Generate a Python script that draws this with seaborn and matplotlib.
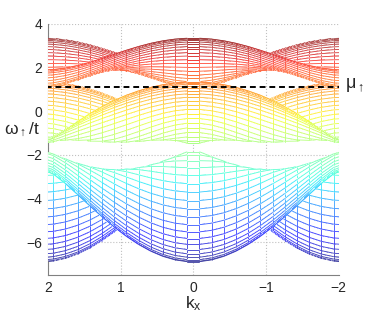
import numpy as np
import matplotlib
matplotlib.use("Agg")
import matplotlib.pyplot as plt
from matplotlib.collections import LineCollection, PolyCollection
import seaborn as sns

# параметры модели (треугольная решётка, 3 подрешётки), подобраны по картинке
t_hop = 1.0
site_potential = [1.1, -1.5, -1.8]           # потенциал для спина вверх на подрешётках A, B, C
kx_grid = np.linspace(-2 * np.pi / 3, 2 * np.pi / 3, 26)
ky_grid = np.linspace(0, 2 * np.pi / np.sqrt(3), 30)
mu_up = 1.12                                 # химпотенциал
x_ticks = [2, 1, 0, -1, -2]
x_ticklabels = ["2", "1", "0", "\u22121", "\u22122"]
y_ticks = [-6, -4, -2, 0, 2, 4]
y_ticklabels = ["\u22126", "\u22124", "\u22122", "0", "2", "4"]

sns.set_style("white")
plt.rcParams["font.family"] = ["Liberation Sans", "DejaVu Sans"]
plt.rcParams["mathtext.fontset"] = "custom"
plt.rcParams["mathtext.rm"] = "Liberation Sans"
plt.rcParams["mathtext.it"] = "Liberation Sans"


def eps(kx, ky):
    return -2 * t_hop * (np.cos(kx) + 2 * np.cos(kx / 2) * np.cos(np.sqrt(3) * ky / 2))


Qx, Qy = 2 * np.pi / 3, -2 * np.pi / np.sqrt(3)
V = np.array(site_potential)
vq = [np.mean(V * np.exp(-2j * np.pi * m * np.arange(3) / 3)) for m in range(3)]
KX, KY = np.meshgrid(kx_grid, ky_grid)
H = np.zeros(KX.shape + (3, 3), complex)
for n in range(3):
    H[..., n, n] += eps(KX + n * Qx, KY + n * Qy)
    for m in range(3):
        H[..., n, m] += vq[(n - m) % 3]
bands = np.linalg.eigvalsh(H)  # (ny, nx, 3)

cmap = plt.get_cmap("jet")
norm = plt.Normalize(bands.min(), bands.max())


def edge_colors(v):
    c = cmap(norm(np.array(v)))
    c[:, :3] = 0.78 * c[:, :3] + 0.22  # чуть светлее, как тонкие линии в оригинале
    return c


fig = plt.figure(figsize=(3.74, 3.19), dpi=100)
ax = fig.add_axes([0.128, 0.138, 0.778, 0.787])
ax.set_axisbelow(True)

ny, nx = KX.shape
z = 2.0
# рисуем полосы сетки от дальних (большие ky) к ближним, белые грани скрывают линии сзади
for i in reversed(range(ny - 1)):
    polys, segs, vals = [], [], []
    for b in range(3):
        E = bands[..., b]
        for j in range(nx - 1):
            polys.append([(kx_grid[j], E[i, j]), (kx_grid[j + 1], E[i, j + 1]),
                          (kx_grid[j + 1], E[i + 1, j + 1]), (kx_grid[j], E[i + 1, j])])
        for r in (i, i + 1):
            for j in range(nx - 1):
                segs.append([(kx_grid[j], E[r, j]), (kx_grid[j + 1], E[r, j + 1])])
                vals.append(0.5 * (E[r, j] + E[r, j + 1]))
        for j in range(nx):
            segs.append([(kx_grid[j], E[i, j]), (kx_grid[j], E[i + 1, j])])
            vals.append(0.5 * (E[i, j] + E[i + 1, j]))
    ax.add_collection(PolyCollection(polys, facecolors="white", edgecolors="none",
                                     antialiaseds=False, zorder=z))
    ax.add_collection(LineCollection(segs, colors=edge_colors(vals), linewidths=0.6,
                                     zorder=z + 0.5))
    z += 1

sns.lineplot(x=[2.2, -2.2], y=[mu_up, mu_up], color="black", lw=1.4,
             linestyle=(0, (3, 2)), ax=ax, zorder=z + 1)

ax.set_xlim(2, -2)
ax.set_ylim(-7.5, 4)
ax.set_xticks(x_ticks)
ax.set_xticklabels(x_ticklabels, fontsize=10)
ax.set_yticks(y_ticks)
ax.set_yticklabels(y_ticklabels, fontsize=10)
ax.grid(True, linestyle=":", color="#c0c0c0", lw=0.8)
ax.tick_params(direction="in", length=3, color="#808080", pad=4)
for s in ["top", "right"]:
    ax.spines[s].set_visible(False)
for s in ["left", "bottom"]:
    ax.spines[s].set_color("#808080")
    ax.spines[s].set_linewidth(0.8)

fig.text(0.517, 0.034, r"$\mathrm{k_x}$", fontsize=12.5, ha="center", va="baseline")
fig.text(0.012, 0.578, r"$\mathrm{\omega_{\uparrow}/t}$", fontsize=12.5, ha="left", va="baseline")
fig.text(0.922, 0.724, r"$\mathrm{\mu_{\uparrow}}$", fontsize=13, ha="left", va="baseline")

fig.savefig("out.png", dpi=100)
